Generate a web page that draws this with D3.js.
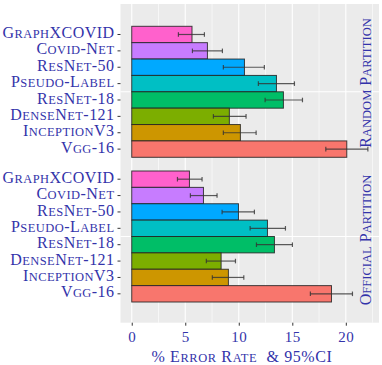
<!DOCTYPE html>
<html>
<head>
<meta charset="utf-8">
<script src="https://cdn.jsdelivr.net/npm/d3@7/dist/d3.min.js"></script>
<style>
  body { margin: 0; background: #fff; }
  svg text { font-family: "Liberation Serif", "DejaVu Serif", serif; fill: #3333aa; }
</style>
</head>
<body>
<div id="chart"></div>
<script>
// categories, top to bottom
var models = ["GraphXCOVID", "Covid-Net", "ResNet-50", "Pseudo-Label", "ResNet-18", "DenseNet-121", "InceptionV3", "Vgg-16"];
var colours = ["#FF61CC", "#C77CFF", "#00A9FF", "#00BFC4", "#00BE67", "#7CAE00", "#CD9600", "#F8766D"];
var partitions = ["Random Partition", "Official Partition"];

// error rate and 95% CI, random partition
var randErr = [5.63, 7.07, 10.53, 13.52, 14.17, 9.12, 10.15, 20.09];
var randLo  = [4.36, 5.67, 8.56, 11.83, 12.46, 7.63, 8.56, 18.13];
var randHi  = [6.79, 8.47, 12.39, 15.20, 15.95, 10.68, 11.62, 22.06];
// official partition
var offErr = [5.39, 6.70, 9.97, 12.68, 13.33, 8.35, 9.03, 18.66];
var offLo  = [4.27, 5.48, 8.44, 11.06, 11.65, 6.97, 7.53, 16.69];
var offHi  = [6.57, 7.97, 11.46, 14.36, 15.01, 9.69, 10.47, 20.62];

var xTicks = [0, 5, 10, 15, 20];
var xMinor = [2.5, 7.5, 12.5, 17.5, 22.5];

var W = 382, H = 365;
var svg = d3.select("#chart").append("svg").attr("width", W).attr("height", H);

// fake small caps: lowercase runs drawn as smaller capitals
function smallCaps(textSel, str, size) {
  textSel.text(null);
  var runs = str.match(/[a-z]+|[^a-z]+/g) || [];
  runs.forEach(function(r) {
    var low = /[a-z]/.test(r);
    textSel.append("tspan").attr("font-size", low ? size * 0.78 : size)
      .text(low ? r.toUpperCase() : r);
  });
}

var pLeft = 120.5, pRight = 379, pTop = 4, pBottom = 322.7;
var x = d3.scaleLinear().domain([-1.05, 23.1]).range([pLeft, pRight]);

// panel background
svg.append("rect").attr("x", pLeft).attr("y", pTop)
  .attr("width", pRight - pLeft).attr("height", pBottom - pTop).attr("fill", "#EBEBEB");

// grid
svg.selectAll(".gmin").data(xMinor).enter().append("line")
  .attr("x1", x).attr("x2", x).attr("y1", pTop).attr("y2", pBottom)
  .attr("stroke", "#fff").attr("stroke-width", 0.6);
svg.selectAll(".gmaj").data(xTicks).enter().append("line")
  .attr("x1", x).attr("x2", x).attr("y1", pTop).attr("y2", pBottom)
  .attr("stroke", "#fff").attr("stroke-width", 1.1);

var groups = [
  {name: partitions[0], err: randErr, lo: randLo, hi: randHi, range: [26.3, 157.3], strip: 83},
  {name: partitions[1], err: offErr, lo: offLo, hi: offHi, range: [171, 302], strip: 240}
];

groups.forEach(function(g) {
  var y = d3.scaleBand().domain(models).range(g.range).padding(0);
  var mid = (g.range[0] + g.range[1]) / 2;

  // horizontal grid line at group centre
  svg.append("line").attr("x1", pLeft).attr("x2", pRight).attr("y1", mid).attr("y2", mid)
    .attr("stroke", "#fff").attr("stroke-width", 1.1);

  var rows = models.map(function(m, i) {
    return {model: m, err: g.err[i], lo: g.lo[i], hi: g.hi[i], col: colours[i]};
  });

  svg.selectAll(null).data(rows).enter().append("rect")
    .attr("x", x(0)).attr("y", function(d) { return y(d.model); })
    .attr("width", function(d) { return x(d.err) - x(0); })
    .attr("height", y.bandwidth())
    .attr("fill", function(d) { return d.col; })
    .attr("stroke", "#222").attr("stroke-opacity", 0.85).attr("stroke-width", 1);

  var eb = svg.selectAll(null).data(rows).enter().append("g")
    .attr("stroke", "#333").attr("stroke-opacity", 0.8).attr("stroke-width", 1.2);
  var cy = function(d) { return y(d.model) + y.bandwidth() / 2; };
  var cap = y.bandwidth() * 0.14;
  eb.append("line").attr("x1", function(d) { return x(d.lo); }).attr("x2", function(d) { return x(d.hi); })
    .attr("y1", cy).attr("y2", cy);
  eb.append("line").attr("x1", function(d) { return x(d.lo); }).attr("x2", function(d) { return x(d.lo); })
    .attr("y1", function(d) { return cy(d) - cap; }).attr("y2", function(d) { return cy(d) + cap; });
  eb.append("line").attr("x1", function(d) { return x(d.hi); }).attr("x2", function(d) { return x(d.hi); })
    .attr("y1", function(d) { return cy(d) - cap; }).attr("y2", function(d) { return cy(d) + cap; });

  // y axis
  var ax = svg.append("g").attr("transform", "translate(" + pLeft + ",0)")
    .call(d3.axisLeft(y).tickSize(3).tickPadding(3));
  ax.attr("font-family", null);
  ax.select(".domain").remove();
  ax.selectAll(".tick line").attr("stroke", "#333");
  ax.selectAll(".tick text").attr("dy", "0.36em").attr("letter-spacing", 0.45)
    .each(function(d) { smallCaps(d3.select(this), d, 16); });

  // strip label
  var st = svg.append("text").attr("transform", "translate(371," + g.strip + ") rotate(-90)")
    .attr("text-anchor", "middle").attr("letter-spacing", 0.05);
  smallCaps(st, g.name, 16);
});

// x axis
var xa = svg.append("g").attr("transform", "translate(0," + pBottom + ")")
  .call(d3.axisBottom(x).tickValues(xTicks).tickSize(3).tickPadding(3));
xa.attr("font-family", null);
xa.select(".domain").remove();
xa.selectAll(".tick line").attr("stroke", "#333");
xa.selectAll(".tick text").attr("font-size", 15).attr("dy", "0.9em").attr("letter-spacing", 0.5);

var title = svg.append("text").attr("x", 242).attr("y", 362).attr("text-anchor", "middle")
  .attr("xml:space", "preserve").attr("letter-spacing", 0.6);
smallCaps(title, "% Error Rate  & 95%CI", 16);
</script>
</body>
</html>
